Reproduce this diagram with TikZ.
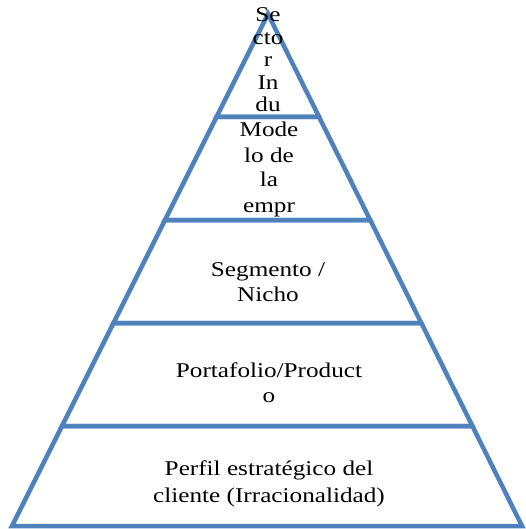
\documentclass[tikz,border=0pt]{standalone}
\usepackage{fontspec}
\setmainfont[FakeStretch=1.2]{Liberation Serif}
\definecolor{pyr}{HTML}{4F81BD}
\begin{document}
\begin{tikzpicture}[x=1pt,y=-1pt,
  level/.style={draw=pyr,line width=4.5pt,line join=miter},
  lbl/.style={align=center,inner sep=0pt,anchor=base,font=\fontsize{21}{25}\selectfont}]
\useasboundingbox (0,0) rectangle (525,529);
\coordinate (A) at (268,14);
\coordinate (L1) at (216.5,117);  \coordinate (R1) at (319.1,117);
\coordinate (L2) at (165,220);    \coordinate (R2) at (370.2,220);
\coordinate (L3) at (113.5,323);  \coordinate (R3) at (421.3,323);
\coordinate (L4) at (62,426);     \coordinate (R4) at (472.4,426);
\coordinate (L5) at (12,526);     \coordinate (R5) at (522,526);
\draw[level] (A) -- (R1) -- (L1) -- cycle;
\draw[level] (L1) -- (R1) -- (R2) -- (L2) -- cycle;
\draw[level] (L2) -- (R2) -- (R3) -- (L3) -- cycle;
\draw[level] (L3) -- (R3) -- (R4) -- (L4) -- cycle;
\draw[level] (L4) -- (R4) -- (R5) -- (L5) -- cycle;
\node[lbl,font=\fontsize{21}{22.5}\selectfont] (t1) at (268,112) {Se\\cto\\r\\In\\du};
\node[lbl] (t2) at (269,212) {Mode\\lo de\\la\\empr};
\node[lbl] (t3) at (268,301) {Segmento /\\Nicho};
\node[lbl] (t4) at (269,402) {Portafolio/Product\\o};
\node[lbl,font=\fontsize{21}{26.5}\selectfont] (t5) at (269,502) {Perfil estratégico del\\cliente (Irracionalidad)};
\end{tikzpicture}
\end{document}
